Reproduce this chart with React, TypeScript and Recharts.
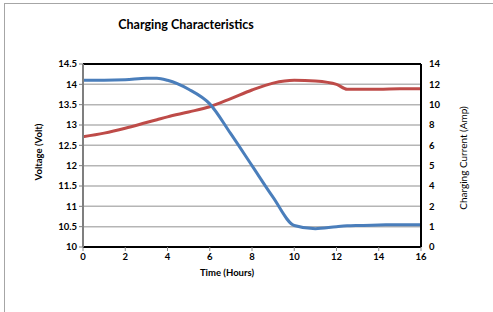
import React from 'react';
import { LineChart, Line, XAxis, YAxis, CartesianGrid, ReferenceLine } from 'recharts';

const hours = [0, 1, 2, 3, 3.5, 4, 5, 6, 7, 8, 9, 10, 11, 12, 12.5, 13, 14, 15, 16];
const voltage = [12.71, 12.8, 12.92, 13.06, 13.13, 13.2, 13.32, 13.45, 13.65, 13.86, 14.03, 14.1, 14.08, 14.0, 13.88, 13.88, 13.88, 13.89, 13.89];
// current drawn against the right axis, whose evenly spaced ticks carry the labels below
const currentPos = [14.1, 14.1, 14.11, 14.15, 14.15, 14.1, 13.88, 13.52, 12.78, 12.0, 11.22, 10.53, 10.45, 10.5, 10.52, 10.53, 10.54, 10.55, 10.55];

const xTicks = [0, 2, 4, 6, 8, 10, 12, 14, 16];
const voltTicks = [10, 10.5, 11, 11.5, 12, 12.5, 13, 13.5, 14, 14.5];
const currentTickLabels = ['0', '1', '2', '4', '5', '6', '8', '10', '12', '14'];

const data = hours.map((h, i) => ({ h, v: voltage[i], c: currentPos[i] }));

const FONT = 'Lato, "Open Sans", sans-serif';

export default function App() {
  return (
    <div style={{ position: 'absolute', left: 0, top: 0, width: 493, height: 312, background: '#fff', fontFamily: FONT }}>
      <div style={{ position: 'absolute', left: 4, top: 3, width: 489, height: 309, borderLeft: '1px solid #a6a6a6', borderTop: '1px solid #a6a6a6' }} />
      <div style={{ position: 'absolute', left: 0, width: 372, top: 17, textAlign: 'center', fontSize: 12.5, fontWeight: 700, color: '#000' }}>
        Charging Characteristics
      </div>
      <div style={{ position: 'absolute', left: 38, top: 152, transform: 'translate(-50%,-50%) rotate(-90deg)', whiteSpace: 'nowrap', fontSize: 9.5, fontWeight: 700 }}>
        Voltage (Volt)
      </div>
      <div style={{ position: 'absolute', left: 463, top: 158, transform: 'translate(-50%,-50%) rotate(-90deg)', whiteSpace: 'nowrap', fontSize: 10, fontWeight: 400 }}>
        Charging Current (Amp)
      </div>
      <div style={{ position: 'absolute', left: 227, top: 272, transform: 'translate(-50%,-50%)', whiteSpace: 'nowrap', fontSize: 9.5, fontWeight: 700 }}>
        Time (Hours)
      </div>
      <div style={{ position: 'absolute', left: 0, top: 0 }}>
        <LineChart width={493} height={312} data={data} margin={{ top: 64, right: 0, left: 0, bottom: 0 }}>
          <CartesianGrid horizontal vertical={false} stroke="#b5b5b5" strokeWidth={1.5} yAxisId="left" />
          <XAxis
            dataKey="h"
            type="number"
            domain={[0, 16]}
            ticks={xTicks}
            interval={0}
            axisLine={{ stroke: '#000', strokeWidth: 2 }}
            tickLine={{ stroke: '#888' }}
            tickSize={4}
            tick={{ fontSize: 9.5, fontWeight: 700, fill: '#000', fontFamily: FONT }}
            height={65}
          />
          <YAxis
            yAxisId="left"
            type="number"
            domain={[10, 14.5]}
            ticks={voltTicks}
            interval={0}
            width={83}
            axisLine={{ stroke: '#7f7f7f', strokeWidth: 2 }}
            tickLine={{ stroke: '#7f7f7f' }}
            tickSize={4}
            tickFormatter={(v: number) => String(v)}
            tick={{ fontSize: 9.5, fontWeight: 700, fill: '#000', fontFamily: FONT }}
          />
          <YAxis
            yAxisId="right"
            orientation="right"
            type="number"
            domain={[10, 14.5]}
            ticks={voltTicks}
            interval={0}
            width={72}
            axisLine={{ stroke: '#000', strokeWidth: 2 }}
            tickLine={false}
            tickSize={4}
            tickFormatter={(v: number) => currentTickLabels[voltTicks.indexOf(v)] ?? ''}
            tick={{ fontSize: 9.5, fontWeight: 700, fill: '#000', fontFamily: FONT, dx: 2 }}
          />
          <ReferenceLine yAxisId="left" y={14.5} stroke="#000" strokeWidth={2} />
          <Line yAxisId="left" type="monotone" dataKey="v" stroke="#be4b48" strokeWidth={3} dot={false} isAnimationActive={false} />
          <Line yAxisId="right" type="monotone" dataKey="c" stroke="#4a7ebb" strokeWidth={3} dot={false} isAnimationActive={false} />
        </LineChart>
      </div>
    </div>
  );
}
